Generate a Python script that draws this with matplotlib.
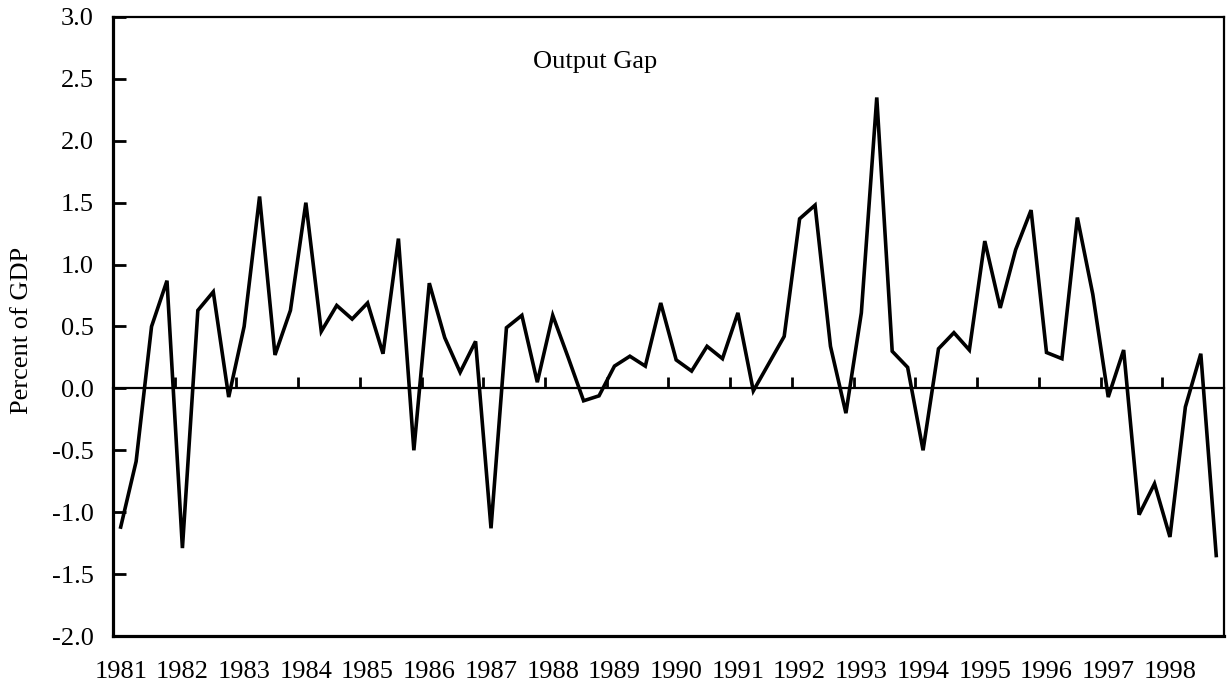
import numpy as np
import matplotlib
matplotlib.use("Agg")
import matplotlib.pyplot as plt

plt.rcParams['font.family'] = ['Liberation Serif', 'DejaVu Serif']
plt.rcParams['axes.unicode_minus'] = False

# quarterly output gap, 1981Q1 - 1998Q4
years = list(range(1981, 1999))
output_gap = [
    -1.12, -0.59, 0.50, 0.87,    # 1981
    -1.29, 0.63, 0.78, -0.07,    # 1982
    0.50, 1.55, 0.27, 0.63,      # 1983
    1.50, 0.46, 0.67, 0.56,      # 1984
    0.69, 0.28, 1.21, -0.50,     # 1985
    0.85, 0.41, 0.13, 0.38,      # 1986
    -1.13, 0.49, 0.59, 0.05,     # 1987
    0.59, 0.25, -0.10, -0.06,    # 1988
    0.18, 0.26, 0.18, 0.69,      # 1989
    0.23, 0.14, 0.34, 0.24,      # 1990
    0.61, -0.02, 0.20, 0.42,     # 1991
    1.37, 1.48, 0.34, -0.20,     # 1992
    0.61, 2.35, 0.30, 0.17,      # 1993
    -0.50, 0.32, 0.45, 0.31,     # 1994
    1.19, 0.65, 1.12, 1.44,      # 1995
    0.29, 0.24, 1.38, 0.76,      # 1996
    -0.07, 0.31, -1.02, -0.77,   # 1997
    -1.20, -0.15, 0.28, -1.35,   # 1998
]

x = np.arange(len(output_gap))
ymin, ymax = -2.0, 3.0

fig = plt.figure(figsize=(12.28, 6.96), dpi=100)
ax = fig.add_axes([0.092, 0.0862, 0.9047, 0.8894])

ax.plot(x, output_gap, color='black', linewidth=2.6, solid_joinstyle='miter')

ax.set_xlim(-0.5, len(output_gap) - 0.5)
ax.set_ylim(ymin, ymax)

# y axis
ax.set_yticks(np.arange(ymin, ymax + 0.01, 0.5))
ax.yaxis.set_major_formatter(matplotlib.ticker.FormatStrFormatter('%.1f'))
ax.tick_params(axis='y', direction='in', length=9, width=2, labelsize=19, pad=14)

# year labels under the frame
ax.set_xticks(x[::4])
ax.set_xticklabels([str(y) for y in years])
ax.tick_params(axis='x', length=0, labelsize=19, pad=18)

for side in ['left', 'bottom']:
    ax.spines[side].set_linewidth(2.3)
for side in ['top', 'right']:
    ax.spines[side].set_linewidth(1.6)

# category axis crossing at zero, ticks between years
ax2 = ax.twiny()
ax2.set_xlim(ax.get_xlim())
ax2.spines['bottom'].set_position(('data', 0))
ax2.spines['bottom'].set_linewidth(1.6)
for side in ['top', 'left', 'right']:
    ax2.spines[side].set_visible(False)
ax2.xaxis.set_ticks_position('bottom')
ax2.set_xticks(x[3::4][:-1] + 0.5)
ax2.tick_params(axis='x', direction='in', length=8, width=2, labelbottom=False)

ax.set_ylabel('Percent of GDP', fontsize=19, va='center')
ax.yaxis.set_label_coords(-0.082, 0.494)

ax.text(0.434, 0.927, 'Output Gap', transform=ax.transAxes,
        ha='center', va='center', fontsize=19)

fig.savefig('out.png', dpi=100)
